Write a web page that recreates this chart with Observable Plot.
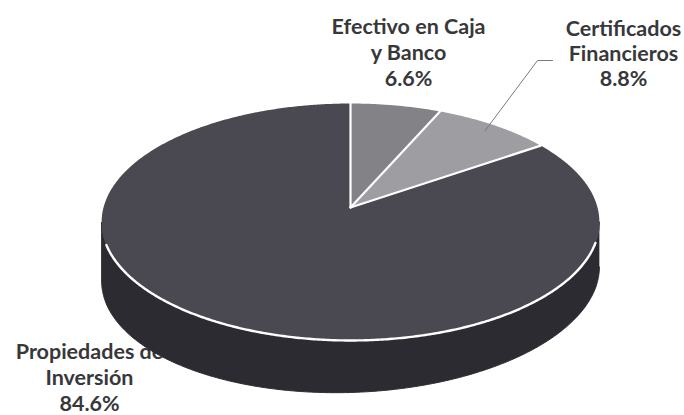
<!DOCTYPE html>
<html>
<head>
<meta charset="utf-8">
<script src="https://cdn.jsdelivr.net/npm/d3@7"></script>
<script src="https://cdn.jsdelivr.net/npm/@observablehq/plot@0.6"></script>
<style>
  html, body { margin: 0; padding: 0; background: #fff; }
  #chart svg { display: block; }
</style>
</head>
<body>
<div id="chart"></div>
<script>
// ---- data ----
const categories = ["Efectivo en Caja y Banco", "Certificados Financieros", "Propiedades de Inversión"];
const values = [6.6, 8.8, 84.6];
const labelLines = [["Efectivo en Caja", "y Banco"], ["Certificados", "Financieros"], ["Propiedades de", "Inversión"]];
const colors = ["#838287", "#9e9da1", "#4a4850"];
const sideColor = "#2c2b31";

// ---- layout (pixel frame of the 3D pie) ----
const W = 684, H = 415;
const CX = 350, CY = 207;      // projected pie centre
const A = 247, B = 116.7;      // horizontal / vertical radii
const K = 0.1224;              // perspective factor
const DEPTH = 52, DEPTH_TILT = 7; // side thickness (px), slightly deeper on the left
const labelPx = [
  {x: 408, y: [33, 59, 85]},
  {x: 623, y: [35, 60, 85]},
  {x: 89,  y: [358, 384, 410]}
];
const fontSize = 21.5;

const ux = px => (px - CX) / A;
const vy = py => (CY - py) / B;
const rad = d => d * Math.PI / 180;

// projection of a point on the unit disc (theta clockwise from 12 o'clock)
function proj(theta, r = 1, bottom = false) {
  const X = r * Math.sin(theta), Y = r * Math.cos(theta);
  const w = 1 + K * Y;
  const u = X / w;
  const drop = bottom ? (DEPTH - DEPTH_TILT * u) / B : 0;
  return {u, v: Y / w - drop};
}

// slice angles
const total = d3.sum(values);
let acc = 0;
const slices = values.map((v, i) => {
  const a0 = acc / total * 2 * Math.PI;
  acc += v;
  const a1 = acc / total * 2 * Math.PI;
  return {name: categories[i], value: v, a0, a1, color: colors[i], i};
});

function arcPts(a0, a1, r = 1, bottom = false, step = rad(0.5)) {
  const n = Math.max(2, Math.ceil(Math.abs(a1 - a0) / step));
  return d3.range(n + 1).map(j => proj(a0 + (a1 - a0) * j / n, r, bottom));
}

// visible side: between vertical tangents (cos theta = -K)
const tR = Math.acos(-K), tL = 2 * Math.PI - Math.acos(-K);
const sidePoly = [...arcPts(tR, tL), ...arcPts(tL, tR, 1, true)];
const rimLine = arcPts(rad(107), rad(252));

const marks = [];

function labelMarks(s) {
  const L = labelPx[s.i];
  const lines = [...labelLines[s.i], `${s.value.toFixed(1)}%`];
  return Plot.text(lines.map((t, j) => ({t, x: ux(L.x), y: vy(L.y[j] - 0.32 * fontSize)})), {
    x: "x", y: "y", text: "t", textAnchor: "middle",
    fontFamily: "Lato, 'Open Sans', sans-serif", fontWeight: "bold",
    fontSize, fill: "#38383a"
  });
}

// Propiedades label drawn below the pie (the pie overlaps it)
marks.push(labelMarks(slices[2]));
marks.push(Plot.line(sidePoly, {x: "u", y: "v", fill: sideColor, stroke: sideColor, strokeWidth: 1}));

for (const s of slices) {
  const poly = [{u: 0, v: 0}, ...arcPts(s.a0, s.a1), {u: 0, v: 0}];
  marks.push(Plot.line(poly, {x: "u", y: "v", fill: s.color, stroke: "none"}));
}
// white separators between slices
for (const s of slices) {
  const e = proj(s.a0);
  marks.push(Plot.line([{u: 0, v: 0}, e], {x: "u", y: "v", stroke: "#ffffff", strokeWidth: 2.2}));
}
marks.push(Plot.line(rimLine, {x: "u", y: "v", stroke: "#ffffff", strokeWidth: 2.4}));

// leader line for Certificados
const cs = slices[1];
const mid = proj((cs.a0 + cs.a1) / 2, 0.93);
marks.push(Plot.line([mid, {u: ux(537), v: vy(60)}, {u: ux(552), v: vy(60)}],
  {x: "u", y: "v", stroke: "#7a7a7a", strokeWidth: 1}));

marks.push(labelMarks(slices[0]));
marks.push(labelMarks(slices[1]));

const chart = Plot.plot({
  width: W, height: H,
  margin: 0,
  x: {domain: [ux(0), ux(W)], axis: null},
  y: {domain: [vy(H), vy(0)], axis: null},
  style: {background: "#fff"},
  marks
});
document.getElementById("chart").appendChild(chart);
</script>
</body>
</html>
